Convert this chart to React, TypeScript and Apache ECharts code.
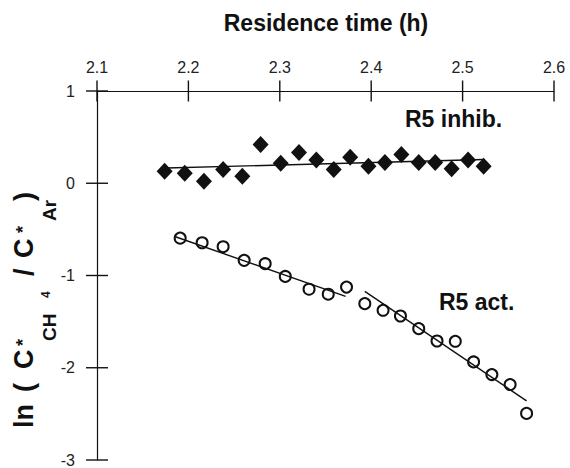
import React, { useEffect, useRef } from 'react';
import * as echarts from 'echarts';

// Inhibited run (filled diamonds)
const inhibTime = [2.174, 2.196, 2.217, 2.238, 2.259, 2.279, 2.301, 2.321, 2.340, 2.359, 2.377, 2.397, 2.415, 2.433, 2.452, 2.470, 2.488, 2.506, 2.523];
const inhibLn = [0.130, 0.108, 0.022, 0.148, 0.076, 0.419, 0.216, 0.332, 0.253, 0.148, 0.281, 0.184, 0.224, 0.311, 0.224, 0.224, 0.156, 0.253, 0.184];
// Active run (open circles)
const actTime = [2.191, 2.215, 2.238, 2.261, 2.284, 2.306, 2.332, 2.353, 2.373, 2.393, 2.413, 2.432, 2.452, 2.472, 2.492, 2.512, 2.532, 2.552, 2.570];
const actLn = [-0.595, -0.645, -0.688, -0.836, -0.872, -1.010, -1.149, -1.203, -1.126, -1.305, -1.377, -1.439, -1.576, -1.710, -1.713, -1.937, -2.074, -2.182, -2.495];
// Fitted lines
const inhibFitTime = [2.176, 2.523];
const inhibFitLn = [0.165, 0.257];
const actFit1Time = [2.185, 2.372];
const actFit1Ln = [-0.577, -1.226];
const actFit2Time = [2.393, 2.570];
const actFit2Ln = [-1.172, -2.359];

// Axis ticks (drawn crossing the axis lines)
const xTickValues = [2.1, 2.2, 2.3, 2.4, 2.5, 2.6];
const yTickValues = [-3, -2, -1, 0, 1];

const X_MIN = 2.1;
const X_MAX = 2.6;
const X_STEP = 0.1;
const Y_MIN = -3;
const Y_MAX = 1;
const Y_STEP = 1;

const FONT = '"Liberation Sans", Arial, Helvetica, sans-serif';
const INK = '#111';

const zip = (xs: number[], ys: number[]) => xs.map((x, i) => [x, ys[i]]);

export default function App() {
  const ref = useRef<HTMLDivElement>(null);
  useEffect(() => {
    if (!ref.current) return;
    const chart = echarts.init(ref.current, undefined, { renderer: 'svg' });
    const axisLineStyle = { color: INK, width: 1.2 };
    const rot = Math.PI / 2;
    const yName = (text: string, x: number, y: number, size: number) => ({
      type: 'text',
      x,
      y,
      rotation: rot,
      style: {
        text,
        fill: INK,
        font: `bold ${size}px ${FONT}`,
        align: 'left',
        verticalAlign: 'middle',
      },
    });
    const fitLine = (xs: number[], ys: number[]) => ({
      type: 'line',
      data: zip(xs, ys),
      symbol: 'none',
      lineStyle: { color: INK, width: 1.4 },
      z: 1,
    });
    const crossTicks = (data: number[][], size: number[]) => ({
      type: 'scatter',
      data,
      symbol: 'rect',
      symbolSize: size,
      clip: false,
      silent: true,
      itemStyle: { color: INK, opacity: 1 },
      z: 4,
    });
    chart.setOption({
      animation: false,
      backgroundColor: '#fff',
      grid: { left: 97, right: 16, top: 91, bottom: 8, containLabel: false },
      xAxis: {
        type: 'value',
        position: 'top',
        min: X_MIN,
        max: X_MAX,
        interval: X_STEP,
        splitLine: { show: false },
        axisLine: { show: true, onZero: false, lineStyle: axisLineStyle },
        axisTick: { show: false },
        axisLabel: {
          margin: 16,
          fontSize: 16,
          color: '#222',
          fontFamily: FONT,
          formatter: (v: number) => v.toFixed(1),
        },
      },
      yAxis: {
        type: 'value',
        position: 'left',
        min: Y_MIN,
        max: Y_MAX,
        interval: Y_STEP,
        splitLine: { show: false },
        axisLine: { show: true, onZero: false, lineStyle: axisLineStyle },
        axisTick: { show: false },
        axisLabel: { margin: 22, fontSize: 16, color: '#222', fontFamily: FONT },
      },
      series: [
        crossTicks(xTickValues.map((v) => [v, Y_MAX]), [1.4, 21]),
        crossTicks(yTickValues.map((v) => [X_MIN, v]), [22, 1.4]),
        fitLine(inhibFitTime, inhibFitLn),
        fitLine(actFit1Time, actFit1Ln),
        fitLine(actFit2Time, actFit2Ln),
        {
          type: 'scatter',
          data: zip(inhibTime, inhibLn),
          symbol: 'diamond',
          symbolSize: [16, 17],
          itemStyle: { color: INK, opacity: 1 },
          z: 3,
        },
        {
          type: 'scatter',
          data: zip(actTime, actLn),
          symbol: 'circle',
          symbolSize: 11,
          itemStyle: { color: 'rgba(255,255,255,0)', borderColor: INK, borderWidth: 2, opacity: 1 },
          z: 3,
        },
      ],
      graphic: [
        {
          type: 'text',
          x: 326,
          y: 23,
          style: {
            text: 'Residence time (h)',
            fill: INK,
            font: `bold 23px ${FONT}`,
            align: 'center',
            verticalAlign: 'middle',
          },
        },
        {
          type: 'text',
          x: 405,
          y: 119,
          style: { text: 'R5 inhib.', fill: INK, font: `bold 23px ${FONT}`, align: 'left', verticalAlign: 'middle' },
        },
        {
          type: 'text',
          x: 439,
          y: 302,
          style: { text: 'R5 act.', fill: INK, font: `bold 23px ${FONT}`, align: 'left', verticalAlign: 'middle' },
        },
        yName('ln', 24, 428, 27),
        yName('(', 24, 392, 27),
        yName('C', 24, 369, 27),
        yName('*', 23, 346, 18),
        yName('CH', 49, 341, 19),
        yName('4', 46, 298, 12),
        yName('/', 24, 276, 27),
        yName('C', 24, 258, 27),
        yName('*', 23, 233, 18),
        yName('Ar', 49, 221, 19),
        yName(')', 24, 201, 27),
      ],
    });
    return () => chart.dispose();
  }, []);
  return <div ref={ref} style={{ width: 570, height: 468, position: 'absolute', left: 0, top: 0 }} />;
}
